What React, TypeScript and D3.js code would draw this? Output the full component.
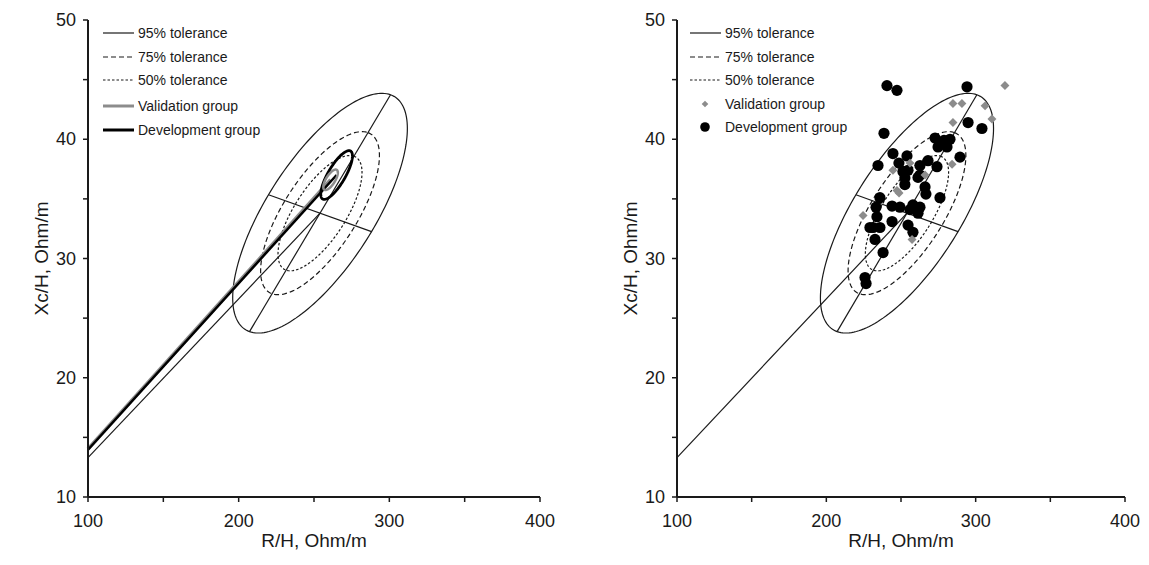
import React from 'react';
import * as d3 from 'd3';

// axis ticks
const xTicks = [100, 200, 300, 400];
const xMinor = [150, 250, 350];
const yTicks = [10, 20, 30, 40, 50];
const yMinor = [15, 25, 35, 45];

// reference tolerance ellipse (mean + two semi-axes, data units)
const tolCenter = [254, 33.8];
const tolAxisA = [46.8, 9.93];
const tolAxisB = [34.2, -1.55];
// chi-square quantiles (2 df) for 95, 75, 50 %
const tolLabels = ['95% tolerance', '75% tolerance', '50% tolerance'];
const tolQuantiles = [5.991, 2.773, 1.386];

// mean confidence ellipses of the two groups
const devCenter = [265, 37.0];
const devAxisA = [9.4, 2.0];
const devAxisB = [4.7, -0.42];
const valCenter = [261, 36.6];
const valAxisA = [4.0, 0.84];
const valAxisB = [2.7, -0.17];

// individual vectors, right panel
const devR = [240.6, 247.3, 294.2, 294.9, 304.2, 238.6, 272.8, 278.8, 282.8, 274.8, 280.8, 289.5, 244.6, 234.6, 254.0, 248.6, 254.7, 252.6, 252.6, 262.7, 268.1, 274.1, 261.4, 266.1, 266.7, 276.1, 235.9, 233.3, 233.9, 244.0, 249.3, 258.0, 262.7, 261.4, 254.7, 258.0, 229.2, 235.9, 244.0, 232.6, 238.0, 225.9, 226.6, 231.3, 256.0, 251.3, 262.7];
const devXc = [44.5, 44.1, 44.4, 41.4, 40.9, 40.5, 40.1, 39.9, 40.0, 39.35, 39.35, 38.5, 38.8, 37.8, 38.6, 38.0, 37.4, 36.75, 36.2, 37.8, 38.2, 37.7, 36.8, 36.0, 35.4, 35.1, 35.1, 34.3, 33.5, 34.4, 34.3, 34.5, 34.3, 33.8, 32.8, 32.2, 32.6, 32.6, 33.1, 31.6, 30.5, 28.4, 27.9, 32.6, 34.1, 37.3, 37.0];
const valR = [319.6, 284.8, 290.8, 306.3, 310.9, 284.8, 284.2, 256.0, 244.6, 266.1, 247.3, 224.6, 257.4, 248.7];
const valXc = [44.5, 43.0, 43.0, 42.8, 41.7, 41.4, 37.9, 38.0, 37.4, 37.0, 35.7, 33.6, 31.6, 35.5];

const FONT = '"Liberation Sans", Arial, Helvetica, sans-serif';
const INK = '#1a1a1a';
const GREY = '#8c8c8c';
const dashes = [null, '5,3', '2.5,2'];

type Sc = d3.ScaleLinear<number, number>;

function ellipsePath(x: Sc, y: Sc, c: number[], a: number[], b: number[], k = 1) {
  const pts = d3.range(0, 2 * Math.PI, Math.PI / 90).map((t) => [
    x(c[0] + k * (a[0] * Math.cos(t) + b[0] * Math.sin(t))),
    y(c[1] + k * (a[1] * Math.cos(t) + b[1] * Math.sin(t))),
  ] as [number, number]);
  return d3.line().curve(d3.curveLinearClosed)(pts) || '';
}

function originLine(x: Sc, y: Sc, c: number[]) {
  const x0 = x.domain()[0];
  return d3.line()([
    [x(x0), y((c[1] * x0) / c[0])],
    [x(c[0]), y(c[1])],
  ]) || '';
}

function Axes({ x, y }: { x: Sc; y: Sc }) {
  const [x0, x1] = x.range();
  const [y0, y1] = y.range();
  const mid = (x0 + x1) / 2;
  return (
    <g fontFamily={FONT} fill={INK}>
      {[...xTicks, ...xMinor].map((t) => (
        <line key={'xt' + t} x1={x(t)} x2={x(t)} y1={y0} y2={y0 + 5} stroke={INK} strokeWidth={1.5} />
      ))}
      {[...yTicks, ...yMinor].map((t) => (
        <line key={'yt' + t} x1={x0 - 5} x2={x0} y1={y(t)} y2={y(t)} stroke={INK} strokeWidth={1.5} />
      ))}
      <line x1={x0} x2={x1} y1={y0} y2={y0} stroke={INK} strokeWidth={2} />
      <line x1={x0} x2={x0} y1={y0} y2={y1} stroke={INK} strokeWidth={2} />
      {xTicks.map((t) => (
        <text key={'xl' + t} x={x(t)} y={y0 + 30} fontSize={18} textAnchor="middle">{t}</text>
      ))}
      {yTicks.map((t) => (
        <text key={'yl' + t} x={x0 - 12} y={y(t) + 6} fontSize={18} textAnchor="end">{t}</text>
      ))}
      <text x={mid} y={y0 + 50} fontSize={19} textAnchor="middle">R/H, Ohm/m</text>
      <text transform={`translate(${x0 - 40},${(y0 + y1) / 2}) rotate(-90)`} fontSize={19} textAnchor="middle">
        Xc/H, Ohm/m
      </text>
    </g>
  );
}

function Tolerance({ x, y }: { x: Sc; y: Sc }) {
  return (
    <g fill="none" stroke={INK} strokeWidth={1.2}>
      {tolQuantiles.map((q, i) => (
        <path key={i} d={ellipsePath(x, y, tolCenter, tolAxisA, tolAxisB, Math.sqrt(q / tolQuantiles[0]))}
          strokeDasharray={dashes[i] || undefined} />
      ))}
      {[tolAxisA, tolAxisB].map((v, i) => (
        <line key={'ax' + i}
          x1={x(tolCenter[0] - v[0])} y1={y(tolCenter[1] - v[1])}
          x2={x(tolCenter[0] + v[0])} y2={y(tolCenter[1] + v[1])} />
      ))}
      <path d={originLine(x, y, tolCenter)} />
    </g>
  );
}

function Legend({ left, points }: { left: number; points: boolean }) {
  const rows = [33, 57, 80, points ? 104 : 106, points ? 127 : 130];
  const lx1 = left, lx2 = left + 31, tx = left + 35;
  return (
    <g fontFamily={FONT} fontSize={14} fill={INK}>
      {tolLabels.map((l, i) => (
        <g key={l}>
          <line x1={lx1} x2={lx2} y1={rows[i]} y2={rows[i]} stroke={INK} strokeWidth={1.2}
            strokeDasharray={dashes[i] || undefined} />
          <text x={tx} y={rows[i] + 5}>{l}</text>
        </g>
      ))}
      {points ? (
        <>
          <path d={d3.symbol(d3.symbolSquare, 22)() || ''} transform={`translate(${left + 15},${rows[3]}) rotate(45)`} fill={GREY} />
          <text x={tx} y={rows[3] + 5}>Validation group</text>
          <circle cx={left + 15} cy={rows[4]} r={4.8} fill="#000" />
          <text x={tx} y={rows[4] + 5}>Development group</text>
        </>
      ) : (
        <>
          <line x1={lx1} x2={lx2} y1={rows[3]} y2={rows[3]} stroke={GREY} strokeWidth={3} />
          <text x={tx} y={rows[3] + 5}>Validation group</text>
          <line x1={lx1} x2={lx2} y1={rows[4]} y2={rows[4]} stroke="#000" strokeWidth={3} />
          <text x={tx} y={rows[4] + 5}>Development group</text>
        </>
      )}
    </g>
  );
}

export default function App() {
  const y = d3.scaleLinear().domain([10, 50]).range([497, 20]);
  const xL = d3.scaleLinear().domain([100, 400]).range([88, 540]);
  const xR = d3.scaleLinear().domain([100, 400]).range([677, 1125]);
  const diamond = d3.symbol(d3.symbolSquare, 40)() || '';

  return (
    <svg width={1149} height={565} style={{ position: 'absolute', left: 0, top: 0, background: '#fff' }}>
      {/* left panel: mean vectors */}
      <Tolerance x={xL} y={y} />
      <g fill="none">
        <path d={originLine(xL, y, valCenter)} stroke={GREY} strokeWidth={3.5} />
        <path d={originLine(xL, y, devCenter)} stroke="#000" strokeWidth={2.5} />
        <path d={ellipsePath(xL, y, devCenter, devAxisA, devAxisB)} stroke="#000" strokeWidth={2.8} />
        <path d={ellipsePath(xL, y, valCenter, valAxisA, valAxisB)} stroke={GREY} strokeWidth={2.5} />
      </g>
      <Axes x={xL} y={y} />
      <Legend left={103} points={false} />

      {/* right panel: individual vectors */}
      <Tolerance x={xR} y={y} />
      <g>
        {devR.map((r, i) => (
          <circle key={'d' + i} cx={xR(r)} cy={y(devXc[i])} r={5.6} fill="#000" />
        ))}
        {valR.map((r, i) => (
          <path key={'v' + i} d={diamond} transform={`translate(${xR(r)},${y(valXc[i])}) rotate(45)`} fill={GREY} />
        ))}
      </g>
      <Axes x={xR} y={y} />
      <Legend left={690} points={true} />
    </svg>
  );
}
